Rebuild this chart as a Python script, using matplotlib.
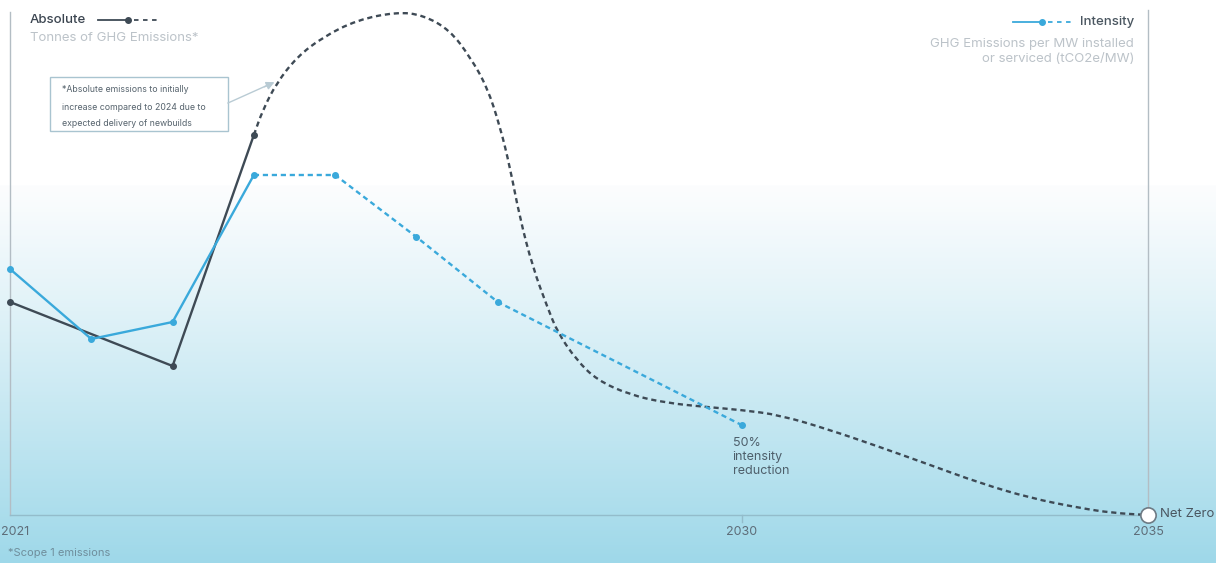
import matplotlib.pyplot as plt
import numpy as np
from matplotlib.path import Path
from matplotlib.patches import PathPatch

plt.rcParams['font.family'] = ['Inter', 'DejaVu Sans']

# data (y in chart units, 0 = net zero)
abs_years = [2021, 2022, 2023, 2024]
abs_vals = [213, 181, 149, 380]
abs_proj_years = [2024.0, 2024.11, 2024.28, 2024.53, 2024.85, 2025.27, 2025.76, 2026.08,
                  2026.41, 2026.66, 2026.87, 2027.03, 2027.15, 2027.27, 2027.43, 2027.61,
                  2027.74, 2027.97, 2028.22, 2028.63, 2029.08, 2029.57, 2030.0, 2030.47,
                  2031.09, 2031.70, 2032.32, 2032.93, 2033.55, 2034.16, 2034.57, 2035.0]
abs_proj_vals = [380, 405, 432, 458, 478, 495, 503, 500,
                 485, 458, 428, 388, 348, 298, 248, 208,
                 182, 155, 135, 120, 112, 108, 105, 100,
                 85, 68, 50, 32, 17, 7, 2, 0]
int_years = [2021, 2022, 2023, 2024]
int_vals = [246, 176, 193, 340]
int_proj_years = [2024, 2025, 2026, 2027, 2030]
int_proj_vals = [340, 340, 278, 213, 90]
tick_years = [2021, 2030, 2035]

DARK = '#3e4a55'
BLUE = '#3aa9db'
GREY = '#bcc3c9'
W, H = 1216, 563

fig = plt.figure(figsize=(W / 100, H / 100), dpi=100)

# background gradient
bg = fig.add_axes([0, 0, 1, 1])
rows = np.arange(H)
t = np.clip((rows - 185) / (H - 185), 0, 1) ** 1.1
top = np.array([252, 253, 254]) / 255
bot = np.array([158, 216, 233]) / 255
col = np.where(rows[:, None] < 185, 1.0, top + (bot - top) * t[:, None])
bg.imshow(col[:, None, :].repeat(2, axis=1), aspect='auto', extent=[0, 1, 0, 1])
bg.axis('off')

ppy = (1148 - 10) / 14
ax = fig.add_axes([0, 0, 1, 1])
ax.patch.set_alpha(0)
ax.axis('off')
ax.set_xlim(2021 - 10 / ppy, 2021 + (W - 10) / ppy)
ax.set_ylim(-(H - 515), 515)

# frame lines
ax.plot([2021, 2021], [0, 503], color='#b3bdc4', lw=1, zorder=1)
ax.plot([2035, 2035], [0, 505], color='#b3bdc4', lw=1, zorder=1)
ax.plot([2021, 2035], [0, 0], color='#93bccb', lw=1, zorder=1)
ax.plot([2030, 2030], [0, -7], color='#93bccb', lw=1, zorder=1)

# smooth projected absolute curve (quadratic bezier through the read points)
pts = np.column_stack([abs_proj_years, abs_proj_vals])
mids = (pts[1:] + pts[:-1]) / 2
verts = [pts[0], mids[0]]
codes = [Path.MOVETO, Path.LINETO]
for i in range(1, len(pts) - 1):
    verts += [pts[i], mids[i]]
    codes += [Path.CURVE3, Path.CURVE3]
verts.append(pts[-1])
codes.append(Path.LINETO)
ax.add_patch(PathPatch(Path(verts, codes), fill=False, edgecolor=DARK, lw=1.7,
                       linestyle=(0, (2.2, 1.6)), zorder=3))

ax.plot(abs_years, abs_vals, color=DARK, lw=1.7, zorder=4)
ax.plot([2021, 2023, 2024], [abs_vals[0], abs_vals[2], abs_vals[3]], 'o', color=DARK, ms=4, zorder=5)
ax.plot(int_proj_years, int_proj_vals, color=BLUE, lw=1.7, dashes=(2.2, 1.6), zorder=3)
ax.plot(int_years, int_vals, color=BLUE, lw=1.7, zorder=4)
ax.plot(int_years + int_proj_years[1:], int_vals + int_proj_vals[1:], 'o', color=BLUE, ms=4, zorder=5)
ax.plot([2035], [0], 'o', ms=11, mfc='white', mec='#6d7a84', mew=1.2, zorder=6)

# tick labels
for yr in tick_years:
    if yr == 2021:
        ax.text(2021 - 9.5 / ppy, -17, str(yr), ha='left', va='center', fontsize=9, color='#5e6d79')
    else:
        ax.text(yr, -17, str(yr), ha='center', va='center', fontsize=9, color='#5e6d79')
ax.text(2035 + 12 / ppy, 1, 'Net Zero', ha='left', va='center', fontsize=9.5, color='#4a5660')
ax.text(2030 - 9 / ppy, 78, '50%\nintensity\nreduction', ha='left', va='top', fontsize=9,
        color='#4e5f6b', linespacing=1.25)


def ftext(x, y, s, **kw):
    fig.text(x / W, 1 - y / H, s, **kw)


ftext(8, 553, '*Scope 1 emissions', fontsize=8, color='#6f8e9c', va='center')

# left legend
ftext(30, 20, 'Absolute', fontsize=9.5, color='#3b4550', va='center', fontweight='medium')
ftext(30, 38, 'Tonnes of GHG Emissions*', fontsize=9.5, color=GREY, va='center')
fig.add_artist(plt.Line2D([98 / W, 128 / W], [1 - 20 / H] * 2, color=DARK, lw=1.3))
fig.add_artist(plt.Line2D([128 / W], [1 - 20 / H], marker='o', color=DARK, ms=4))
fig.add_artist(plt.Line2D([134 / W, 160 / W], [1 - 20 / H] * 2, color=DARK, lw=1.3, dashes=(2.5, 2.5)))

# right legend
ftext(1134, 22, 'Intensity', fontsize=9.5, color='#4a5660', va='center', ha='right', fontweight='medium')
ftext(1134, 44, 'GHG Emissions per MW installed', fontsize=9.5, color=GREY, va='center', ha='right')
ftext(1134, 59, 'or serviced (tCO2e/MW)', fontsize=9.5, color=GREY, va='center', ha='right')
fig.add_artist(plt.Line2D([1013 / W, 1042 / W], [1 - 22 / H] * 2, color=BLUE, lw=1.3))
fig.add_artist(plt.Line2D([1042 / W], [1 - 22 / H], marker='o', color=BLUE, ms=4))
fig.add_artist(plt.Line2D([1048 / W, 1074 / W], [1 - 22 / H] * 2, color=BLUE, lw=1.3, dashes=(2.5, 2.5)))

# annotation box
box = plt.Rectangle((50 / W, 1 - 131 / H), 178 / W, 54 / H, transform=fig.transFigure,
                    fill=True, facecolor='white', edgecolor='#a9c4d0', lw=1)
fig.add_artist(box)
ftext(62, 90, '*Absolute emissions to initially', fontsize=6.3, color='#56636d', va='center')
ftext(62, 107, 'increase compared to 2024 due to', fontsize=6.3, color='#56636d', va='center')
ftext(62, 124, 'expected delivery of newbuilds', fontsize=6.3, color='#56636d', va='center')
fig.add_artist(plt.Line2D([228 / W, 268 / W], [1 - 103 / H, 1 - 85 / H], color='#b9cbd4', lw=1))
ax.annotate('', xy=(2021 + (277 - 10) / ppy, 515 - 81), xytext=(2021 + (262 - 10) / ppy, 515 - 88),
            arrowprops=dict(arrowstyle='-|>', color='#b9cbd4', lw=1, mutation_scale=12))

fig.savefig('out.png', dpi=100)
